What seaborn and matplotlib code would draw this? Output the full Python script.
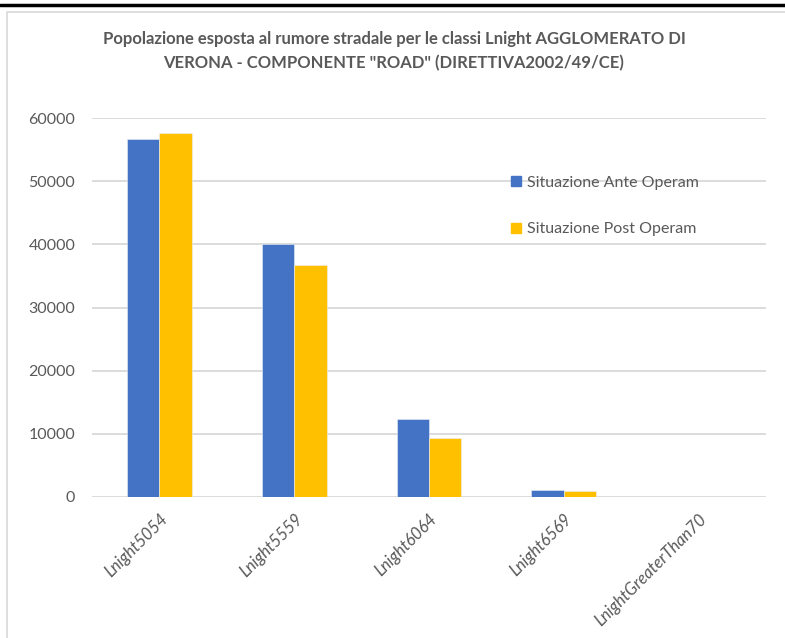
import matplotlib
matplotlib.use("Agg")
import matplotlib.pyplot as plt
import seaborn as sns
import pandas as pd
from matplotlib.patches import Rectangle
from matplotlib.lines import Line2D

categories = ["Lnight5054", "Lnight5559", "Lnight6064", "Lnight6569", "LnightGreaterThan70"]
series_names = ["Situazione Ante Operam", "Situazione Post Operam"]
ante_values = [56700, 40100, 12400, 1100, 50]
post_values = [57600, 36800, 9300, 900, 40]
yticks = [0, 10000, 20000, 30000, 40000, 50000, 60000]
title = 'Popolazione esposta al rumore stradale per le classi Lnight AGGLOMERATO DI\nVERONA - COMPONENTE "ROAD" (DIRETTIVA2002/49/CE)'

df = pd.DataFrame({
    "cat": categories * 2,
    "serie": [series_names[0]] * len(categories) + [series_names[1]] * len(categories),
    "val": ante_values + post_values,
})

sns.set_style("white")
plt.rcParams["font.family"] = ["Lato", "DejaVu Sans"]

fig = plt.figure(figsize=(7.85, 6.38), dpi=100)
ax = fig.add_axes([92 / 785, 1 - 497 / 638, (766 - 92) / 785, (497 - 118) / 638])

sns.barplot(data=df, x="cat", y="val", hue="serie", order=categories, hue_order=series_names,
            palette=["#4472C4", "#FFC000"], saturation=1, width=0.48, ax=ax,
            edgecolor="#E8EEF8", linewidth=0.4, legend=False)

ax.set_ylim(0, 60000)
ax.set_yticks(yticks)
ax.set_yticklabels([str(v) for v in yticks], fontsize=11.5, color="#595959")
ax.yaxis.grid(True, color="#D9D9D9", linewidth=1.3)
ax.set_axisbelow(True)
for s in ax.spines.values():
    s.set_visible(False)
ax.tick_params(axis="y", length=0, pad=12)
ax.tick_params(axis="x", length=0, pad=10)
ax.set_xticks(range(len(categories)))
ax.set_xticklabels(categories, rotation=45, ha="right", rotation_mode="anchor",
                   fontsize=12, color="#595959", style="italic")
ax.set_xlabel("")
ax.set_ylabel("")
ax.set_xlim(-0.5, len(categories) - 0.5)

handles = [Rectangle((0, 0), 1, 1, color="#4472C4"), Rectangle((0, 0), 1, 1, color="#FFC000")]
leg = fig.legend(handles, series_names, loc="center left", bbox_to_anchor=(497 / 785, 1 - 206 / 638),
                 frameon=False, fontsize=11.5, handlelength=0.6, handleheight=0.6,
                 handletextpad=0.35, labelspacing=2.05)
for t in leg.get_texts():
    t.set_color("#595959")

fig.text(394 / 785, 1 - 51 / 638, title, ha="center", va="center", fontsize=12,
         fontweight="bold", color="#595959", linespacing=1.55)

# frame and top rule
fig.patches.append(Rectangle((7 / 785, -0.05), 1.0, 1 - 12 / 638 + 0.05, transform=fig.transFigure,
                             fill=False, edgecolor="#D9D9D9", linewidth=1.2))
fig.lines.append(Line2D([0, 1], [1 - 4.5 / 638, 1 - 4.5 / 638], transform=fig.transFigure,
                        color="black", linewidth=2.5))

fig.savefig("out.png", dpi=100)
